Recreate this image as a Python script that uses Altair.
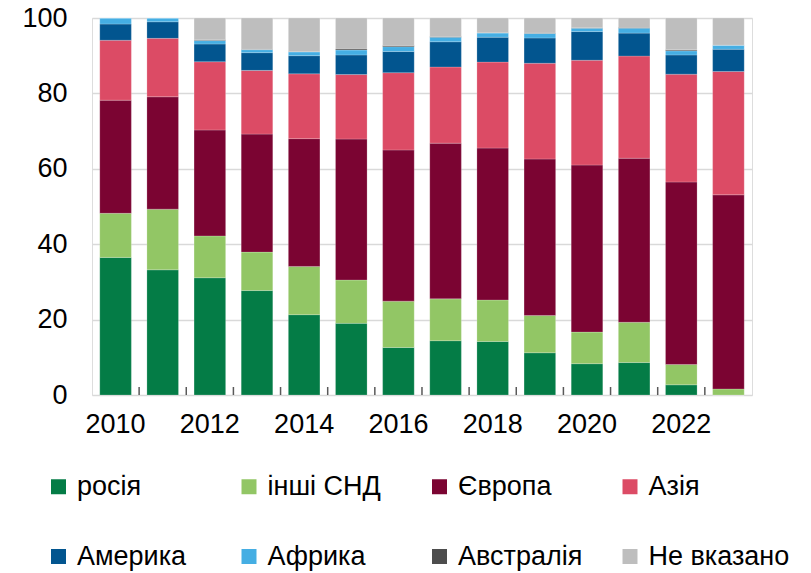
import altair as alt
import pandas as pd

years = [str(y) for y in range(2010, 2024)]
categories = ["росія", "інші СНД", "Європа", "Азія", "Америка", "Африка", "Австралія", "Не вказано"]
colors = ["#047C46", "#92C665", "#7B0432", "#DC4B65", "#02558F", "#45AEE3", "#4D4D4D", "#BEBEBE"]

russia    = [36.5, 33.2, 31.1, 27.7, 21.3, 19.0, 12.6, 14.4, 14.2, 11.2, 8.3, 8.6, 2.7, 0.0]
other_cis = [11.7, 16.1, 11.1, 10.2, 12.8, 11.5, 12.3, 11.1, 11.0, 9.9, 8.4, 10.7, 5.4, 1.6]
europe    = [30.0, 29.8, 28.1, 31.3, 33.9, 37.4, 40.1, 41.3, 40.3, 41.5, 44.3, 43.5, 48.4, 51.5]
asia      = [15.9, 15.5, 18.1, 16.9, 17.2, 17.1, 20.5, 20.2, 22.8, 25.4, 27.8, 27.1, 28.6, 32.7]
america   = [4.3, 4.4, 4.7, 4.7, 4.8, 5.2, 5.6, 6.7, 6.6, 6.7, 7.6, 6.1, 5.1, 5.9]
africa    = [1.6, 1.0, 0.9, 0.8, 1.0, 1.3, 1.3, 1.2, 1.1, 1.2, 0.9, 1.3, 1.1, 1.1]
australia = [0.0, 0.0, 0.2, 0.1, 0.1, 0.3, 0.3, 0.2, 0.1, 0.1, 0.1, 0.2, 0.3, 0.0]
unknown   = [0.0, 0.0, 5.8, 8.3, 8.9, 8.2, 7.3, 4.9, 3.9, 4.0, 2.6, 2.5, 8.4, 7.2]

series = [russia, other_cis, europe, asia, america, africa, australia, unknown]
rows = []
for ci, (cat, vals) in enumerate(zip(categories, series)):
    for y, v in zip(years, vals):
        rows.append({"year": y, "category": cat, "value": v, "idx": ci})
df = pd.DataFrame(rows)

tick_df = pd.DataFrame({"year": years[1:]})

FONT = "Liberation Sans"

xscale = alt.Scale(domain=years, paddingInner=0.33, paddingOuter=0.165)

bars = alt.Chart(df).mark_bar(stroke="white", strokeWidth=0.5, strokeOpacity=0.4).encode(
    x=alt.X("year:N", scale=xscale,
            axis=alt.Axis(title=None, labelAngle=0, ticks=False, domain=False, grid=False,
                          labelFontSize=27, labelPadding=16, labelColor="black", labelFont=FONT,
                          labelExpr="toNumber(datum.value) % 2 == 0 ? datum.label : ''")),
    y=alt.Y("value:Q", stack="zero",
            scale=alt.Scale(domain=[0, 100], nice=False),
            axis=alt.Axis(title=None, values=[0, 20, 40, 60, 80, 100], ticks=False, domain=False,
                          gridColor="#D9D9D9", gridWidth=1.3, labelFontSize=27, labelPadding=25,
                          labelColor="black", labelFont=FONT)),
    color=alt.Color("category:N", scale=alt.Scale(domain=categories, range=colors),
                    legend=alt.Legend(title=None, orient="none", legendX=-47, legendY=455,
                                      direction="horizontal", columns=4, symbolType="square",
                                      symbolSize=225, symbolStrokeWidth=0, labelFontSize=27,
                                      labelFont=FONT, labelColor="black", labelOffset=5,
                                      gridAlign="all", columnPadding=17.5, rowPadding=42,
                                      padding=0, labelLimit=300,
                                      labelExpr="datum.label == 'Європа' ? '\u00a0Європа' : datum.label")),
    order=alt.Order("idx:Q", sort="ascending"),
)

ticks = alt.Chart(tick_df).mark_rule(color="#595959", strokeWidth=1.5, xOffset=-7.8).encode(
    x=alt.X("year:N", bandPosition=0, scale=xscale),
    y=alt.value(377),
    y2=alt.value(369),
)

chart = alt.layer(bars, ticks).properties(
    width=660, height=377,
    padding={"left": 84, "top": 10, "right": 43, "bottom": 176},
    autosize="none",
).configure_view(stroke="#595959", strokeWidth=2).configure(font=FONT)

chart.save("out.html", embed_options={"renderer": "svg", "actions": False})
